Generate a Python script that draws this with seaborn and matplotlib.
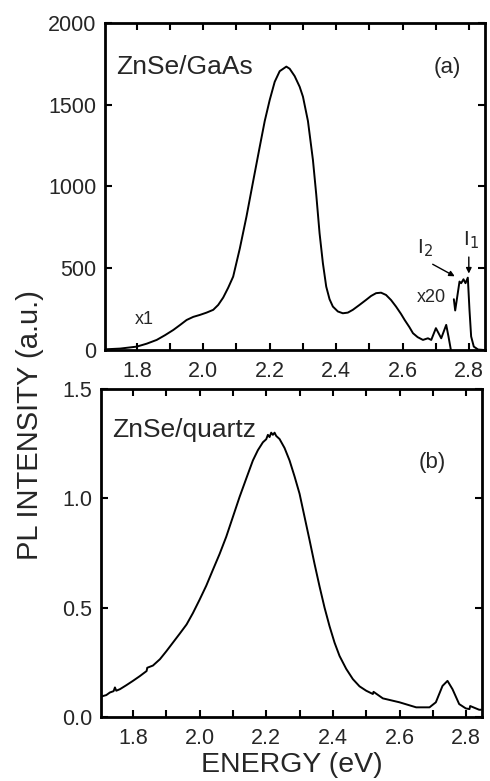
import matplotlib
matplotlib.use("Agg")
import matplotlib.pyplot as plt
from matplotlib.ticker import MultipleLocator
import seaborn as sns

sns.set_style("ticks")
plt.rcParams['font.family'] = ['Liberation Sans', 'DejaVu Sans']

# Panel (a): ZnSe/GaAs, x1 trace
energy_a1 = [1.70, 1.75, 1.80, 1.83, 1.86, 1.885, 1.91, 1.93, 1.95, 1.97, 1.99, 2.01, 2.03, 2.045,
             2.06, 2.075, 2.09, 2.11, 2.13, 2.15, 2.17, 2.185, 2.20, 2.215, 2.23, 2.25, 2.26,
             2.275, 2.29, 2.30, 2.315, 2.33, 2.34, 2.35, 2.36, 2.37, 2.38, 2.39, 2.405, 2.42,
             2.435, 2.45, 2.47, 2.49, 2.505, 2.52, 2.535, 2.55, 2.565, 2.58, 2.595, 2.606,
             2.62, 2.631, 2.645, 2.661, 2.676, 2.686, 2.70, 2.716, 2.731, 2.738, 2.745]
intensity_a1 = [3, 8, 20, 38, 61, 90, 122, 152, 183, 202, 214, 228, 245, 275,
                320, 380, 448, 620, 815, 1030, 1243, 1400, 1529, 1640, 1705, 1733, 1720,
                1675, 1610, 1549, 1400, 1162, 950, 713, 530, 387, 310, 265, 235, 224,
                228, 245, 275, 306, 330, 347, 350, 336, 305, 265, 220, 183,
                140, 102, 78, 61, 71, 61, 133, 71, 153, 80, 0]

# Panel (a): x20 trace
energy_a20 = [2.754, 2.758, 2.771, 2.776, 2.783, 2.789, 2.796, 2.801, 2.806, 2.814, 2.827, 2.84]
intensity_a20 = [310, 241, 418, 408, 432, 408, 442, 245, 82, 20, 2, 0]

# Panel (b): ZnSe/quartz
energy_b = [1.706, 1.72, 1.731, 1.742, 1.746, 1.75, 1.761, 1.78, 1.80, 1.82, 1.841, 1.843, 1.86, 1.881,
            1.90, 1.92, 1.94, 1.961, 1.98, 2.00, 2.02, 2.04, 2.06, 2.08, 2.10, 2.12, 2.14, 2.16,
            2.175, 2.19, 2.20, 2.205, 2.21, 2.215, 2.22, 2.225, 2.23, 2.24, 2.255, 2.27, 2.285,
            2.30, 2.315, 2.33, 2.345, 2.36, 2.375, 2.39, 2.405, 2.42, 2.44, 2.46, 2.48, 2.50,
            2.52, 2.522, 2.55, 2.60, 2.65, 2.69, 2.709, 2.729, 2.744, 2.759, 2.779, 2.799,
            2.81, 2.812, 2.839, 2.845]
intensity_b = [0.094, 0.10, 0.112, 0.118, 0.135, 0.12, 0.127, 0.145, 0.165, 0.186, 0.210, 0.225, 0.235,
               0.264, 0.30, 0.34, 0.38, 0.423, 0.475, 0.536, 0.60, 0.673, 0.745, 0.824, 0.915,
               1.006, 1.09, 1.173, 1.22, 1.256, 1.27, 1.29, 1.28, 1.30, 1.29, 1.30, 1.285, 1.271,
               1.23, 1.173, 1.10, 1.021, 0.915, 0.809, 0.70, 0.597, 0.50, 0.415, 0.34, 0.279,
               0.22, 0.173, 0.14, 0.12, 0.105, 0.115, 0.085, 0.067, 0.044, 0.044, 0.067, 0.142,
               0.165, 0.127, 0.059, 0.039, 0.036, 0.05, 0.033, 0.033]

xticks = [1.8, 2.0, 2.2, 2.4, 2.6, 2.8]
yticks_a = [0, 500, 1000, 1500, 2000]
yticks_b = [0.0, 0.5, 1.0, 1.5]

fig = plt.figure(figsize=(4.9, 7.81), dpi=100)
ax1 = fig.add_axes([0.214, 0.552, 0.776, 0.4186])
ax2 = fig.add_axes([0.206, 0.082, 0.778, 0.420])

lw = 1.4
sns.lineplot(x=energy_a1, y=intensity_a1, ax=ax1, color='black', lw=lw, sort=False)
sns.lineplot(x=energy_a20, y=intensity_a20, ax=ax1, color='black', lw=lw, sort=False)
sns.lineplot(x=energy_b, y=intensity_b, ax=ax2, color='black', lw=lw, sort=False)

for ax, yt, ylim in [(ax1, yticks_a, (0, 2000)), (ax2, yticks_b, (0, 1.5))]:
    ax.set_xlim(1.704, 2.848)
    ax.set_ylim(*ylim)
    ax.set_xticks(xticks)
    ax.set_xticklabels([f"{t:.1f}" for t in xticks])
    ax.xaxis.set_minor_locator(MultipleLocator(0.1))
    ax.set_yticks(yt)
    if ax is ax1:
        ax.set_yticklabels([str(t) for t in yt])
    else:
        ax.set_yticklabels([f"{t:.1f}" for t in yt])
    ax.tick_params(axis='both', which='both', direction='in', top=True, right=True,
                   length=5, width=1.5, labelsize=15.5, pad=6, color='black')
    ax.tick_params(axis='x', which='major', pad=8)
    for s in ax.spines.values():
        s.set_linewidth(2)
        s.set_color('black')
    ax.set_xlabel('')
    ax.set_ylabel('')

ax1.text(0.03, 0.865, 'ZnSe/GaAs', transform=ax1.transAxes, fontsize=19, va='center', ha='left')
ax1.text(0.90, 0.865, '(a)', transform=ax1.transAxes, fontsize=16, va='center', ha='center')
ax1.text(1.824, 183, 'x1', fontsize=13, ha='center', va='center')
ax1.text(2.687, 318, 'x20', fontsize=13, ha='center', va='center')
ax1.text(2.666, 624, 'I$_2$', fontsize=15, ha='center', va='center')
ax1.text(2.805, 673, 'I$_1$', fontsize=15, ha='center', va='center')
ax1.annotate('', xy=(2.764, 442), xytext=(2.683, 532),
             arrowprops=dict(arrowstyle='-|>', color='black', lw=1.0, mutation_scale=8))
ax1.annotate('', xy=(2.799, 450), xytext=(2.799, 585),
             arrowprops=dict(arrowstyle='-|>', color='black', lw=1.0, mutation_scale=8))

ax2.text(0.029, 0.875, 'ZnSe/quartz', transform=ax2.transAxes, fontsize=19, va='center', ha='left')
ax2.text(0.869, 0.777, '(b)', transform=ax2.transAxes, fontsize=16, va='center', ha='center')

fig.text(0.596, 0.0205, 'ENERGY (eV)', fontsize=20.5, ha='center', va='center')
fig.text(0.061, 0.456, 'PL INTENSITY (a.u.)', fontsize=21, rotation=90, ha='center', va='center')

fig.savefig('out.png', dpi=100, facecolor='white')
